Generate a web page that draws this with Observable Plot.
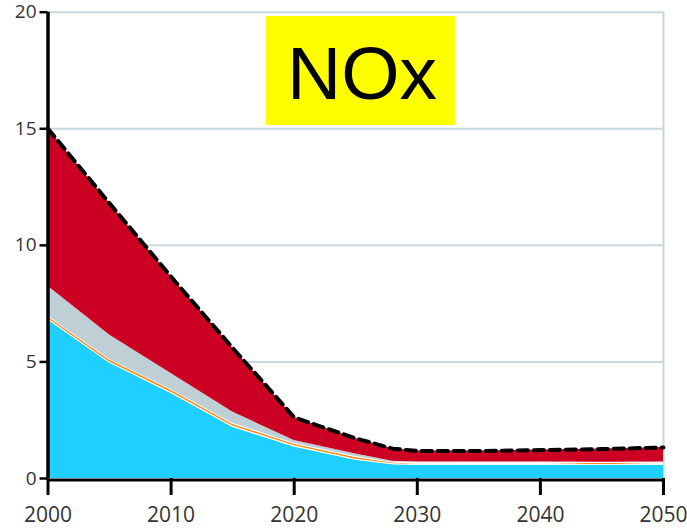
<!DOCTYPE html>
<html>
<head>
<meta charset="utf-8">
<script src="https://cdn.jsdelivr.net/npm/d3@7"></script>
<script src="https://cdn.jsdelivr.net/npm/@observablehq/plot@0.6"></script>
<style>
  html, body { margin: 0; padding: 0; background: #fff; }
  svg { display: block; }
</style>
</head>
<body>
<script>
// ---- Data ----
const years   = [2000, 2005, 2010, 2015, 2020, 2025, 2028, 2030, 2035, 2040, 2045, 2050];
const blue    = [6.80, 4.95, 3.65, 2.20, 1.35, 0.78, 0.59, 0.57, 0.57, 0.57, 0.57, 0.57];
const gapLow  = [0.05, 0.05, 0.05, 0.05, 0.05, 0.05, 0.04, 0.04, 0.04, 0.04, 0.03, 0.04];
const orange  = [0.08, 0.08, 0.08, 0.08, 0.07, 0.07, 0.03, 0.01, 0.00, 0.00, 0.05, 0.00];
const gapHigh = [0.04, 0.04, 0.04, 0.04, 0.04, 0.04, 0.04, 0.09, 0.10, 0.10, 0.05, 0.10];
const grey    = [1.28, 1.03, 0.68, 0.48, 0.12, 0.11, 0.04, 0.00, 0.00, 0.00, 0.00, 0.00];
const red     = [6.75, 5.65, 4.15, 2.75, 0.99, 0.67, 0.54, 0.47, 0.47, 0.51, 0.56, 0.62];

const xTicks = [2000, 2010, 2020, 2030, 2040, 2050];
const yTicks = [0, 5, 10, 15, 20];
const gridTicks = [5, 10, 15, 20];
const title = "NOx";

const seriesNames  = ["blue", "gapLow", "orange", "gapHigh", "grey", "red"];
const seriesValues = [blue, gapLow, orange, gapHigh, grey, red];
const seriesColors = ["#1fcfff", "#ffffff", "#ff8a1a", "#ffffff", "#bfcfd6", "#cc0022"];

// long table for stacking
const table = [];
seriesNames.forEach((s, i) => {
  years.forEach((yr, j) => table.push({ year: yr, series: s, value: seriesValues[i][j] }));
});
const totals = years.map((yr, j) => ({ year: yr, total: d3.sum(seriesValues, v => v[j]) }));

const gridColor = "#c8d7df";

const chart = Plot.plot({
  width: 687,
  height: 529,
  marginLeft: 47.5,
  marginRight: 24,
  marginTop: 11.7,
  marginBottom: 51,
  style: { fontFamily: "'Open Sans', sans-serif", background: "#fff" },
  x: { domain: [2000, 2050] },
  y: { domain: [0, 20] },
  color: { domain: seriesNames, range: seriesColors },
  marks: [
    Plot.gridY(gridTicks, { stroke: gridColor, strokeOpacity: 1, strokeWidth: 2 }),
    Plot.ruleX([2050], { stroke: gridColor, strokeWidth: 2 }),
    Plot.areaY(table, {
      x: "year", y: "value", z: "series", fill: "series",
      order: seriesNames, curve: "linear"
    }),
    Plot.lineY(totals, {
      x: "year", y: "total", stroke: "black", strokeWidth: 4,
      strokeDasharray: "10,6"
    }),
    Plot.axisX({
      ticks: xTicks, tickFormat: d => String(d), tickSize: 17, tickPadding: 12,
      strokeWidth: 3, stroke: "black", fill: "#333", fontSize: 21, label: null
    }),
    Plot.axisY({
      ticks: yTicks, tickSize: 8, tickPadding: 3.5,
      strokeWidth: 2.5, stroke: "black", fill: "#333", fontSize: 19, label: null
    }),
    Plot.ruleX([2000], { stroke: "black", strokeWidth: 3.5 }),
    Plot.ruleY([0], { stroke: "black", strokeWidth: 3, dy: 1.5 })
  ]
});

document.body.appendChild(chart);

// title box
const svg = d3.select(chart);
svg.append("rect")
  .attr("x", 266).attr("y", 16).attr("width", 189).attr("height", 109)
  .attr("fill", "#ffff00");
svg.append("text")
  .attr("x", 362).attr("y", 99)
  .attr("text-anchor", "middle")
  .attr("font-family", "'Liberation Sans', Arial, sans-serif")
  .attr("font-size", 75)
  .attr("fill", "#000")
  .text(title);
</script>
</body>
</html>
